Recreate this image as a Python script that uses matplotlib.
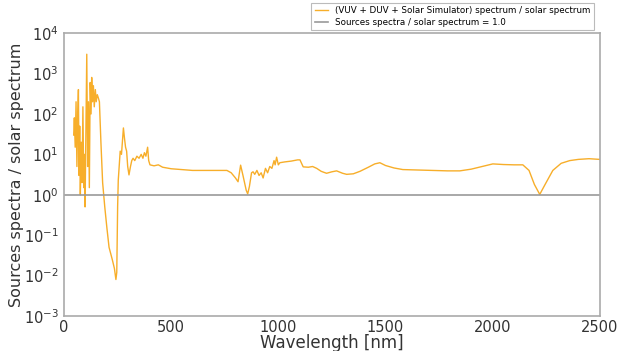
import matplotlib
matplotlib.use("Agg")
import matplotlib.pyplot as plt

wavelength = [45, 48, 52, 56, 60, 64, 67, 70, 73, 76, 80, 84, 88, 92, 96, 98, 102, 106, 110, 114,
              118, 122, 126, 129, 133, 137, 141, 146, 150, 155, 160, 165, 172, 180, 190, 200, 210,
              215, 225, 235, 242, 246, 250, 253, 258, 262, 268, 272, 277, 282, 287, 292, 297, 303,
              310, 316, 322, 330, 340, 350, 360, 368, 375, 382, 390, 395, 401, 420, 440, 460, 480,
              500, 550, 600, 650, 700, 760, 780, 800, 812, 824, 835, 850, 857, 865, 875, 882, 890,
              900, 910, 920, 929, 940, 950, 960, 970, 980, 985, 992, 1000, 1007, 1030, 1060, 1090,
              1101, 1116, 1140, 1160, 1179, 1200, 1225, 1250, 1272, 1300, 1319, 1350, 1381, 1420,
              1450, 1474, 1500, 1540, 1581, 1650, 1721, 1790, 1847, 1900, 1950, 2001, 2050, 2100,
              2141, 2170, 2195, 2220, 2245, 2281, 2320, 2360, 2400, 2450, 2500]
ratio = [30, 80, 15, 200, 5, 100, 400, 3, 50, 1.0, 20, 2, 150, 1.5, 10, 0.5, 30, 3000, 5, 200,
         1.5, 600, 100, 800, 200, 500, 150, 400, 200, 300, 250, 200, 20, 2, 0.5, 0.15, 0.05,
         0.04, 0.025, 0.015, 0.008, 0.012, 0.5, 2.3, 6, 12, 10, 20, 45, 25, 15, 12, 5, 3.1,
         5, 7, 8, 7, 9, 8, 10, 8, 11, 9, 15, 7, 5.5, 5.2, 5.5, 4.8, 4.6,
         4.4, 4.2, 4.0, 4.0, 4.0, 4.0, 3.5, 2.6, 2.1, 5.4, 3.0, 1.3, 1.05, 1.6, 3.5, 3.7, 3.2,
         4.0, 3.0, 3.5, 2.6, 4.5, 3.5, 5.0, 4.5, 7.0, 5.5, 8.5, 5.5, 6.2, 6.5, 6.8, 7.3,
         7.3, 4.9, 4.8, 5.0, 4.5, 3.8, 3.4, 3.7, 3.9, 3.4, 3.2, 3.3, 3.8, 4.8,
         5.8, 6.2, 5.3, 4.6, 4.2, 4.1, 4.0, 3.9, 3.9, 4.3, 5.0, 5.8, 5.6, 5.5,
         5.5, 4.0, 1.8, 1.02, 1.8, 4.0, 6.0, 7.0, 7.5, 7.8, 7.5]
unity_x = [0, 2500]
unity_y = [1.0, 1.0]

fig = plt.figure(figsize=(6.28, 3.51), dpi=100)
ax = fig.add_axes([0.102, 0.0997, 0.853, 0.806])
ax.plot(wavelength, ratio, color="#F7AE2A", lw=1.0,
        label="(VUV + DUV + Solar Simulator) spectrum / solar spectrum")
ax.plot(unity_x, unity_y, color="#999999", lw=1.2,
        label="Sources spectra / solar spectrum = 1.0")
ax.set_yscale("log")
ax.set_xlim(0, 2500)
ax.set_ylim(1e-3, 1e4)
ax.set_xticks([0, 500, 1000, 1500, 2000, 2500])
ax.set_yticks([1e-3, 1e-2, 1e-1, 1e0, 1e1, 1e2, 1e3, 1e4])
ax.minorticks_off()
ax.tick_params(length=0, labelsize=10.5, colors="#333333")
ax.tick_params(axis="y", pad=4)
ax.tick_params(axis="x", pad=3)
for s in ax.spines.values():
    s.set_color("#aaaaaa")
    s.set_linewidth(1.2)
ax.set_xlabel("Wavelength [nm]", fontsize=12, color="#333333", labelpad=-1)
ax.set_ylabel("Sources spectra / solar spectrum", fontsize=11.5, color="#333333", labelpad=0)
leg = ax.legend(loc="lower right", bbox_to_anchor=(0.997, 0.995), fontsize=6.3, frameon=True,
                fancybox=False, edgecolor="#aaaaaa", handlelength=1.5, borderpad=0.4,
                labelspacing=0.3)
leg.get_frame().set_linewidth(0.8)
fig.savefig("out.png", dpi=100)
